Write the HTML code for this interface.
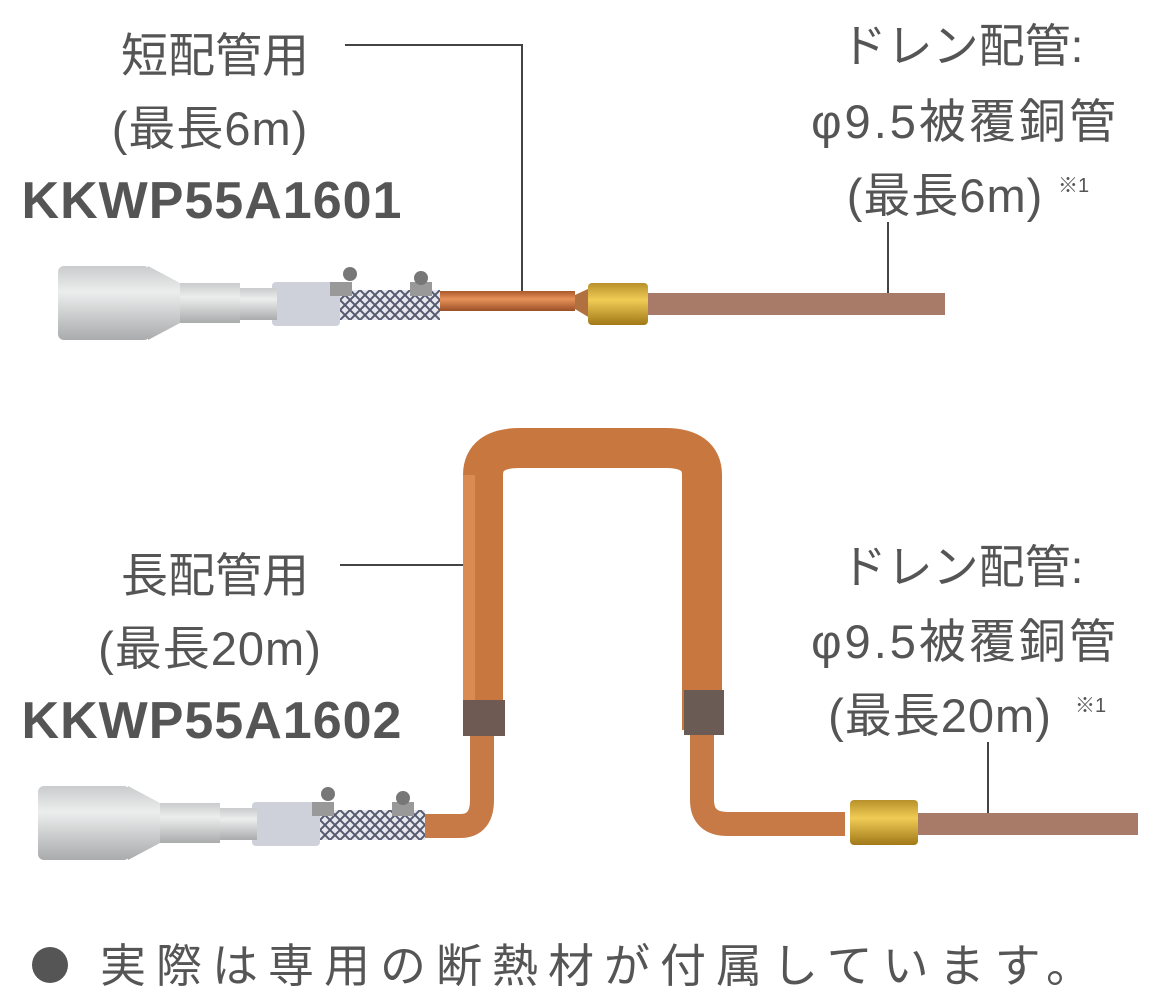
<!DOCTYPE html>
<html><head><meta charset="utf-8"><style>
html,body{margin:0;padding:0;background:#fff;width:1151px;height:1003px;overflow:hidden}
text{font-family:"Liberation Sans","Noto Sans CJK JP",sans-serif;fill:#555}
</style></head><body>
<svg width="1151" height="1003" viewBox="0 0 1151 1003" xmlns="http://www.w3.org/2000/svg">
<defs>
<linearGradient id="gy" x1="0" y1="0" x2="0" y2="1"><stop offset="0" stop-color="#c9cbcc"/><stop offset=".35" stop-color="#eceeee"/><stop offset="1" stop-color="#a9abac"/></linearGradient>
<linearGradient id="cu" x1="0" y1="0" x2="0" y2="1"><stop offset="0" stop-color="#a9582a"/><stop offset=".4" stop-color="#e8925a"/><stop offset="1" stop-color="#9a4f25"/></linearGradient>
<linearGradient id="br" x1="0" y1="0" x2="0" y2="1"><stop offset="0" stop-color="#b8902a"/><stop offset=".4" stop-color="#f0cc55"/><stop offset="1" stop-color="#a07818"/></linearGradient>
<pattern id="mesh" width="10" height="10" patternUnits="userSpaceOnUse"><rect width="10" height="10" fill="#e8e8ee"/><path d="M0,0L10,10M10,0L0,10" stroke="#555a70" stroke-width="2"/></pattern>
</defs>

<!-- top labels -->
<text x="215" y="72" font-size="47" text-anchor="middle">短配管用</text>
<text x="210" y="145" font-size="47" text-anchor="middle" letter-spacing="1">(最長6m)</text>
<text x="212" y="218" font-size="52" font-weight="bold" text-anchor="middle" letter-spacing="1">KKWP55A1601</text>
<polyline points="345,45 522,45 522,300" fill="none" stroke="#444" stroke-width="2"/>
<text x="962" y="62" font-size="46" text-anchor="middle">ドレン配管:</text>
<text x="965" y="138" font-size="47" text-anchor="middle" letter-spacing="3">φ9.5被覆銅管</text>
<text x="945" y="212" font-size="47" text-anchor="middle" letter-spacing="1">(最長6m)</text>
<text x="1058" y="192" font-size="20">※1</text>
<line x1="888" y1="222" x2="888" y2="300" stroke="#444" stroke-width="2"/>

<!-- top assembly -->
<g>
<rect x="645" y="293" width="300" height="22" fill="#a87a68"/>
<rect x="440" y="291" width="135" height="20" fill="url(#cu)"/>
<path d="M575,295 L590,288 V318 L575,309Z" fill="#b07040"/>
<rect x="588" y="283" width="60" height="42" rx="4" fill="url(#br)"/>
<rect x="340" y="290" width="100" height="30" fill="url(#mesh)"/>
<rect x="272" y="282" width="68" height="44" rx="4" fill="#c9ccd6" opacity=".9"/>
<rect x="237" y="288" width="40" height="32" fill="url(#gy)"/>
<rect x="180" y="283" width="60" height="40" fill="url(#gy)"/>
<path d="M148,266 L180,283 V323 L148,340Z" fill="url(#gy)"/>
<rect x="58" y="266" width="92" height="74" rx="6" fill="url(#gy)"/>
<rect x="330" y="282" width="22" height="14" fill="#999"/><rect x="410" y="282" width="22" height="14" fill="#999"/>
<circle cx="350" cy="274" r="7" fill="#777"/><circle cx="421" cy="278" r="7" fill="#777"/>
</g>

<!-- bottom labels -->
<text x="215" y="592" font-size="47" text-anchor="middle">長配管用</text>
<text x="210" y="665" font-size="47" text-anchor="middle" letter-spacing="1">(最長20m)</text>
<text x="212" y="738" font-size="52" font-weight="bold" text-anchor="middle" letter-spacing="1">KKWP55A1602</text>
<line x1="340" y1="565" x2="478" y2="565" stroke="#444" stroke-width="2"/>
<text x="962" y="583" font-size="46" text-anchor="middle">ドレン配管:</text>
<text x="965" y="658" font-size="47" text-anchor="middle" letter-spacing="3">φ9.5被覆銅管</text>
<text x="940" y="732" font-size="47" text-anchor="middle" letter-spacing="1">(最長20m)</text>
<text x="1075" y="712" font-size="20">※1</text>
<line x1="988" y1="742" x2="988" y2="818" stroke="#444" stroke-width="2"/>

<!-- bottom assembly -->
<rect x="918" y="813" width="220" height="22" fill="#a87a68"/>
<path d="M425,826 H460 Q482,826 482,800 V725" fill="none" stroke="#c77a45" stroke-width="24"/>
<path d="M702,725 V800 Q702,824 728,824 H845" fill="none" stroke="#c77a45" stroke-width="24"/>
<path d="M483,730 V475 Q483,448 520,448 H665 Q702,448 702,475 V730" fill="none" stroke="#c8773f" stroke-width="40"/>
<rect x="463" y="475" width="12" height="250" fill="#e6995e" opacity=".6"/>
<rect x="463" y="700" width="42" height="36" fill="#6e5a52"/>
<rect x="684" y="690" width="40" height="45" fill="#6a5c55"/>
<rect x="850" y="800" width="68" height="45" rx="4" fill="url(#br)"/>
<rect x="320" y="810" width="105" height="30" fill="url(#mesh)"/>
<rect x="252" y="802" width="68" height="44" rx="4" fill="#c9ccd6" opacity=".9"/>
<rect x="217" y="808" width="40" height="32" fill="url(#gy)"/>
<rect x="160" y="803" width="60" height="40" fill="url(#gy)"/>
<path d="M128,786 L160,803 V843 L128,860Z" fill="url(#gy)"/>
<rect x="38" y="786" width="92" height="74" rx="6" fill="url(#gy)"/>
<rect x="312" y="802" width="22" height="14" fill="#999"/><rect x="392" y="802" width="22" height="14" fill="#999"/>
<circle cx="328" cy="794" r="7" fill="#777"/><circle cx="403" cy="798" r="7" fill="#777"/>

<!-- footer -->
<circle cx="50" cy="965" r="18" fill="#555"/>
<text x="100" y="982" font-size="46" letter-spacing="10">実際は専用の断熱材が付属しています。</text>
</svg>
</body></html>
